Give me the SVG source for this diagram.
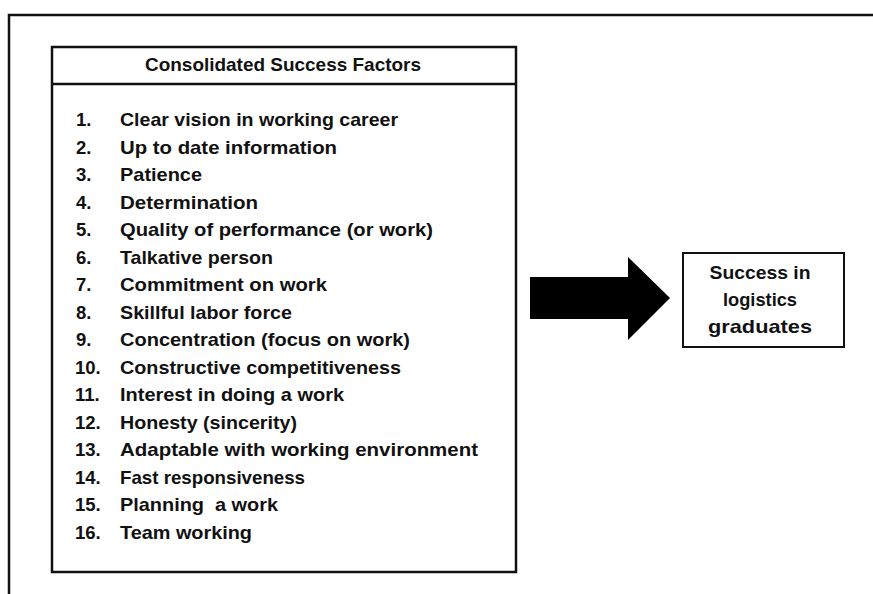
<svg xmlns="http://www.w3.org/2000/svg" width="873" height="594" viewBox="0 0 873 594">
  <style>
    .frame { fill: none; stroke: #111; stroke-width: 2.5; }
    .box { fill: #fff; stroke: #111; stroke-width: 2.5; }
    .rule { stroke: #111; stroke-width: 2.5; }
    .t { font-family: "Liberation Sans", Arial, sans-serif; font-weight: bold; font-size: 18.5px; fill: #111; }
    .mid { text-anchor: middle; }
  </style>

  <rect width="873" height="594" fill="#fff"/>

  <!-- page frame running off the right and bottom edges -->
  <path class="frame" d="M9,600 V15 H880"/>

  <!-- list of factors -->
  <g id="factors">
    <rect class="box" x="52" y="47" width="464" height="525"/>
    <line class="rule" x1="52" y1="84" x2="516" y2="84"/>
    <text class="t mid" x="283" y="71" textLength="276" lengthAdjust="spacingAndGlyphs">Consolidated Success Factors</text>
    <g class="t">
      <text x="76" y="126">1.</text>
      <text x="120" y="126" textLength="278" lengthAdjust="spacingAndGlyphs">Clear vision in working career</text>
      <text x="76" y="153.5">2.</text>
      <text x="120" y="153.5" textLength="217" lengthAdjust="spacingAndGlyphs">Up to date information</text>
      <text x="76" y="181">3.</text>
      <text x="120" y="181" textLength="82" lengthAdjust="spacingAndGlyphs">Patience</text>
      <text x="76" y="208.5">4.</text>
      <text x="120" y="208.5" textLength="138" lengthAdjust="spacingAndGlyphs">Determination</text>
      <text x="76" y="236">5.</text>
      <text x="120" y="236" textLength="313" lengthAdjust="spacingAndGlyphs">Quality of performance (or work)</text>
      <text x="76" y="263.5">6.</text>
      <text x="120" y="263.5" textLength="153" lengthAdjust="spacingAndGlyphs">Talkative person</text>
      <text x="76" y="291">7.</text>
      <text x="120" y="291" textLength="207" lengthAdjust="spacingAndGlyphs">Commitment on work</text>
      <text x="76" y="318.5">8.</text>
      <text x="120" y="318.5" textLength="172" lengthAdjust="spacingAndGlyphs">Skillful labor force</text>
      <text x="76" y="346">9.</text>
      <text x="120" y="346" textLength="290" lengthAdjust="spacingAndGlyphs">Concentration (focus on work)</text>
      <text x="75" y="373.5">10.</text>
      <text x="120" y="373.5" textLength="281" lengthAdjust="spacingAndGlyphs">Constructive competitiveness</text>
      <text x="75" y="401">11.</text>
      <text x="120" y="401" textLength="224" lengthAdjust="spacingAndGlyphs">Interest in doing a work</text>
      <text x="75" y="428.5">12.</text>
      <text x="120" y="428.5" textLength="177" lengthAdjust="spacingAndGlyphs">Honesty (sincerity)</text>
      <text x="75" y="456">13.</text>
      <text x="120" y="456" textLength="358" lengthAdjust="spacingAndGlyphs">Adaptable with working environment</text>
      <text x="75" y="483.5">14.</text>
      <text x="120" y="483.5" textLength="185" lengthAdjust="spacingAndGlyphs">Fast responsiveness</text>
      <text x="75" y="511">15.</text>
      <text x="120" y="511" textLength="158" lengthAdjust="spacingAndGlyphs" xml:space="preserve">Planning  a work</text>
      <text x="75" y="538.5">16.</text>
      <text x="120" y="538.5" textLength="132" lengthAdjust="spacingAndGlyphs">Team working</text>
    </g>
  </g>

  <!-- outcome -->
  <g id="outcome">
    <rect x="683" y="253" width="161" height="94" fill="#fff" stroke="#111" stroke-width="2"/>
    <text class="t mid" x="760" y="279" textLength="101" lengthAdjust="spacingAndGlyphs">Success in</text>
    <text class="t mid" x="760" y="306" textLength="74" lengthAdjust="spacingAndGlyphs">logistics</text>
    <text class="t mid" x="760" y="333" textLength="104" lengthAdjust="spacingAndGlyphs">graduates</text>
  </g>

  <!-- block arrow from factors to outcome -->
  <g id="connectors">
    <polygon points="530,277 628,277 628,257 670,298 628,340 628,319 530,319" fill="#000"/>
  </g>
</svg>
